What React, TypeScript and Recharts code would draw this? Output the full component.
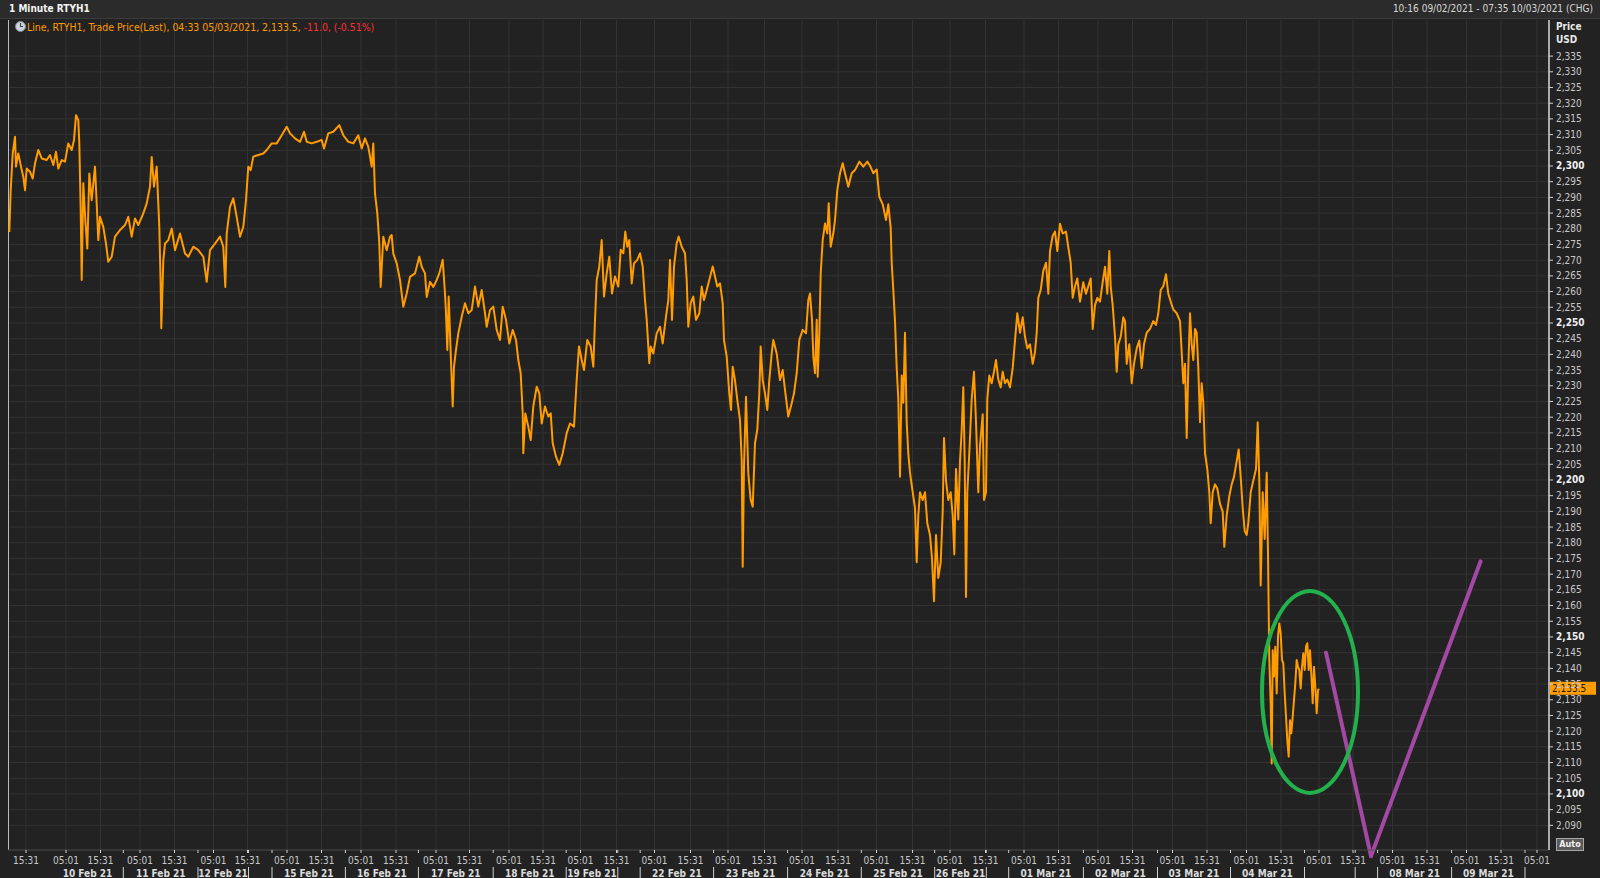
import { LineChart, Line, XAxis, YAxis, CartesianGrid, ReferenceLine, ReferenceDot } from "recharts";

// x = position on the compressed trading-time axis (chart slots), y = RTYH1 last trade price
const feb09to12: [number, number][] = [
  [1.3, 2279.0], [2.7, 2292.3], [4.7, 2304.0], [7, 2309.3], [8, 2299.8], [10.3, 2304.0], [12, 2301.4], [13.7, 2298.7],
  [15.3, 2296.6], [17, 2292.3], [18.7, 2299.2], [22, 2298.2], [24.7, 2296.0], [27, 2300.8], [30.3, 2305.1], [33.7, 2302.4],
  [38.7, 2301.9], [42, 2303.5], [45.3, 2300.3], [48, 2304.5], [50.3, 2299.2], [53.7, 2301.9], [57, 2301.4], [60.3, 2307.2],
  [63.7, 2305.1], [66, 2308.3], [68, 2316.2], [70.3, 2314.6], [71.3, 2307.2], [72.7, 2286.0], [73.7, 2263.7], [75.3, 2294.5],
  [77.3, 2282.8], [79.3, 2273.7], [81.3, 2297.6], [83.7, 2289.1], [87, 2299.8], [88.7, 2288.1], [90.3, 2276.4], [92, 2283.8],
  [95.3, 2280.6], [98, 2275.3], [100.3, 2269.5], [103.7, 2271.1], [107, 2277.5], [112, 2279.6], [117, 2281.2], [120.3, 2283.8],
  [123.7, 2277.5], [127, 2283.3], [130.3, 2281.2], [135.3, 2284.9], [138.7, 2288.1], [142, 2293.4], [143.7, 2302.9], [146, 2293.4],
  [148.7, 2299.8], [151.3, 2280.6], [152.7, 2261.5], [153.3, 2248.3], [155.3, 2270.0], [157, 2275.3], [160.3, 2276.4], [163.7, 2280.1],
  [167, 2273.2], [172, 2278.5], [177, 2272.1], [180.3, 2271.1], [185.3, 2274.3], [190.3, 2273.2], [195.3, 2271.1], [198.7, 2263.1],
  [202, 2273.2], [207, 2275.3], [212, 2277.5], [215.3, 2274.3], [217.3, 2261.5], [218.7, 2278.5], [222, 2287.0], [225.3, 2289.7],
  [228.7, 2283.8], [232, 2277.5], [235.3, 2280.6], [238, 2289.1], [240.3, 2299.8], [242.7, 2298.7], [245.3, 2303.0], [250.3, 2303.5],
  [255.3, 2304.0], [258.7, 2305.1], [263.7, 2307.2],
];

const feb15to19: [number, number][] = [
  [268.7, 2307.2], [273.7, 2309.8], [278.7, 2312.5], [282, 2310.4], [287, 2308.8], [292, 2307.7], [296, 2310.9], [298.7, 2307.7],
  [303.7, 2307.2], [308.7, 2307.7], [313.7, 2308.3], [316, 2305.6], [320.3, 2310.4], [325.3, 2310.9], [331.3, 2313.0], [335.3, 2309.8],
  [340.3, 2307.7], [345.3, 2307.2], [350.3, 2309.8], [353.7, 2305.6], [357, 2308.8], [360.3, 2306.1], [363.7, 2299.8], [365.3, 2307.2],
  [367, 2291.3], [369.3, 2284.9], [371.3, 2275.3], [372.7, 2261.5], [375.3, 2277.5], [378.7, 2273.2], [382, 2277.5], [383.7, 2278.0],
  [385.3, 2272.1], [388.7, 2269.0], [392, 2263.7], [395.3, 2255.2], [398.7, 2259.4], [402, 2264.7], [407, 2265.8], [411.3, 2271.1],
  [413.7, 2267.9], [417, 2265.8], [418.7, 2258.3], [422, 2263.1], [425.3, 2261.5], [428.7, 2263.7], [431.3, 2265.8], [434.7, 2270.1],
  [437, 2259.4], [438, 2253.1], [439.3, 2241.4], [440.7, 2258.4], [442.7, 2240.3], [444.7, 2223.4], [446, 2236.1], [448, 2241.4],
  [450.3, 2246.7], [453.7, 2252.0], [457, 2256.3], [460.3, 2253.1], [463.7, 2254.1], [467, 2261.6], [470.3, 2255.2], [473.7, 2260.5],
  [477, 2253.1], [478.7, 2248.8], [482, 2254.1], [485.3, 2255.2], [488.7, 2247.8], [492, 2244.6], [494.7, 2255.2], [498, 2251.0],
  [501.3, 2243.5], [504.7, 2247.8], [508, 2244.6], [510.3, 2238.2], [512.7, 2234.0], [514.7, 2221.2], [515.3, 2208.5], [517.3, 2221.2],
  [520.3, 2217.0], [522.7, 2212.7], [525.3, 2223.4], [528.7, 2229.7], [531.3, 2227.6], [533.7, 2218.0], [537, 2223.4], [540.3, 2220.2],
  [542.7, 2221.2], [544.7, 2211.7], [548, 2207.4], [551.3, 2204.8], [554.7, 2208.5], [558.7, 2214.9], [562, 2218.0], [566, 2217.0],
  [568.7, 2231.8], [571, 2242.5], [573.7, 2238.2], [576, 2235.0], [579.3, 2244.6], [582.7, 2242.5], [585.3, 2236.1], [587, 2251.0],
  [588.7, 2263.7], [591.3, 2268.0], [593.7, 2276.4], [596, 2258.4], [598.7, 2265.8], [601.3, 2271.1], [604, 2259.4], [607, 2264.8],
];

const feb22to26: [number, number][] = [
  [610.3, 2261.6], [612.7, 2273.3], [615.3, 2272.2], [617.3, 2279.1], [619.3, 2274.3], [621.3, 2276.4], [623.7, 2262.6], [626, 2269.0],
  [629.3, 2270.1], [632, 2272.2], [634.7, 2268.0], [637, 2257.3], [638.7, 2251.0], [641.3, 2237.2], [642.7, 2242.5], [645.3, 2240.3],
  [648.7, 2246.7], [652, 2248.8], [654.7, 2243.5], [658, 2252.0], [660.3, 2257.3], [662, 2270.1], [664, 2251.0], [666, 2268.0],
  [668.7, 2275.4], [670.7, 2277.5], [673.7, 2274.3], [677, 2272.2], [678.7, 2263.7], [680.3, 2248.8], [682.7, 2256.3], [685.3, 2258.4],
  [688, 2251.0], [691.3, 2253.1], [693.7, 2261.6], [696, 2257.3], [698.7, 2260.5], [701.3, 2263.7], [704.7, 2268.0], [707, 2264.8],
  [709.3, 2261.6], [712, 2262.6], [714.7, 2256.3], [716, 2244.6], [718.7, 2239.3], [721.3, 2227.6], [723, 2222.3], [724.7, 2236.1],
  [727, 2231.8], [729.3, 2225.5], [732, 2219.1], [733.7, 2206.4], [734.7, 2172.4], [736, 2204.3], [738, 2226.5], [740.3, 2202.1],
  [742.7, 2193.6], [744.7, 2191.5], [747, 2211.7], [749.3, 2216.0], [751.3, 2227.6], [752.7, 2242.5], [754.7, 2231.8], [757, 2227.6],
  [759.3, 2222.3], [761.3, 2231.8], [763.7, 2240.3], [765.3, 2244.6], [768.7, 2240.3], [772, 2231.8], [774.7, 2235.0], [777, 2228.7],
  [780.3, 2220.2], [783.7, 2224.4], [786, 2227.6], [788.7, 2234.0], [791.3, 2244.6], [794.7, 2247.8], [798, 2246.7], [800.3, 2257.3],
  [802, 2259.4], [804, 2251.0], [805.3, 2239.3], [807, 2234.0], [808.7, 2251.0], [809.7, 2232.9], [811.3, 2246.7], [812.7, 2265.8],
  [814.7, 2276.4], [817, 2281.7], [819.3, 2278.5], [820.7, 2288.1], [822.7, 2274.3], [825.3, 2278.5], [827, 2282.8], [829.3, 2292.4],
  [832, 2297.7], [834.7, 2300.9], [837, 2297.7], [840.3, 2293.4], [843.7, 2297.7], [847, 2298.7], [851.3, 2301.4], [855.3, 2299.8],
  [859.3, 2301.4], [862, 2300.1], [865.3, 2297.7], [868.7, 2298.9], [871.3, 2290.2], [874.7, 2287.8], [878, 2282.8], [880.3, 2287.8],
  [882.7, 2280.3], [883.7, 2269.2], [885.3, 2260.5], [887, 2250.6], [888.7, 2235.7], [890.3, 2225.8], [892, 2201.0], [893.7, 2233.3],
  [895.3, 2224.6], [897, 2246.9], [898.7, 2218.4], [900.3, 2208.5], [902, 2202.3], [904.7, 2196.1], [907, 2191.1], [908.7, 2173.8],
  [910.3, 2188.7], [912, 2196.1], [914.7, 2193.6], [917, 2196.1], [919.3, 2186.2], [922, 2182.5], [924, 2175.0], [926, 2161.4],
  [928, 2182.5], [930.3, 2168.8], [932.7, 2173.8], [934.7, 2189.9], [936, 2213.4], [938, 2199.8], [940.3, 2193.6], [942.7, 2196.1],
  [944.7, 2188.7], [946.3, 2176.3], [948, 2203.5], [950.3, 2187.4], [952, 2206.0], [953.7, 2215.9], [955.3, 2229.5], [956.7, 2206.0],
  [958, 2162.7], [959.3, 2196.1], [961.3, 2208.5], [963.7, 2225.8], [966, 2234.5], [968, 2218.4], [970.3, 2196.1], [972, 2211.0],
  [974.7, 2220.9], [976, 2193.6], [978, 2196.1],
];

const mar01to05: [number, number][] = [
  [979.3, 2225.8], [981.3, 2233.3], [983.7, 2230.8], [986, 2234.5], [988, 2238.2], [990.3, 2232.0], [992.7, 2229.5], [994.7, 2234.5],
  [997, 2230.8], [999.3, 2232.0], [1002, 2229.5], [1004.7, 2235.7], [1007, 2244.4], [1009.3, 2253.1], [1012, 2246.9], [1014.7, 2251.8],
  [1017, 2245.6], [1019.3, 2241.9], [1022, 2243.2], [1024.7, 2237.0], [1027, 2240.7], [1028.7, 2246.9], [1030.3, 2258.0], [1032.7, 2260.5],
  [1035.3, 2266.7], [1038, 2269.2], [1040.3, 2259.3], [1042, 2272.9], [1044.7, 2277.8], [1047, 2279.1], [1049.3, 2272.9], [1052, 2281.6],
  [1054.7, 2278.5], [1058, 2279.1], [1060.3, 2274.1], [1062.7, 2269.2], [1064.7, 2258.0], [1067, 2261.7], [1069.3, 2264.2], [1072, 2256.8],
  [1075.3, 2263.0], [1078, 2259.3], [1080.3, 2261.7], [1082.7, 2264.2], [1084.7, 2248.1], [1087, 2255.6], [1089.3, 2258.0], [1092, 2256.8],
  [1094.7, 2263.0], [1097, 2267.9], [1099.3, 2259.3], [1101.3, 2272.9], [1102.7, 2261.7], [1104.7, 2255.6], [1107, 2245.6], [1108.7, 2234.5],
  [1110.3, 2243.2], [1112.7, 2245.6], [1115.3, 2251.8], [1117, 2250.6], [1118.7, 2237.0], [1121.3, 2243.2], [1123.7, 2230.8], [1126, 2237.0],
  [1128.7, 2241.9], [1131.3, 2244.4], [1133.7, 2235.7], [1136, 2243.2], [1138.7, 2246.9], [1142, 2248.1], [1145.3, 2250.6], [1148, 2249.4],
  [1150.3, 2253.1], [1152.7, 2260.5], [1155.3, 2261.7], [1158, 2265.5], [1160.3, 2259.3], [1162.7, 2256.8], [1165.3, 2254.3], [1168.7, 2253.1],
  [1172, 2250.6], [1173.7, 2240.7], [1175.3, 2230.8], [1177, 2237.0], [1178.7, 2213.4], [1180.3, 2235.7], [1182, 2253.1], [1183.7, 2243.2],
  [1185.3, 2238.2], [1187, 2248.1], [1188.7, 2246.9], [1190.3, 2235.7], [1192, 2218.4], [1193.7, 2230.8], [1195.3, 2224.6], [1197, 2208.5],
  [1199.3, 2203.5], [1201.3, 2196.1], [1202.7, 2186.2], [1204.7, 2196.1], [1207, 2198.6], [1209.3, 2197.3], [1212, 2192.4], [1214.7, 2189.9],
  [1216.3, 2178.7], [1218.7, 2188.7], [1221.3, 2194.9], [1223.7, 2198.6], [1226, 2201.0], [1228.7, 2206.0], [1230.7, 2209.7], [1232.7, 2201.0],
  [1234.7, 2191.1], [1236.7, 2183.7], [1238.7, 2182.5], [1240.3, 2186.2], [1242.7, 2196.1], [1245.3, 2199.8], [1248, 2203.5], [1249.7, 2218.4],
  [1251.3, 2199.8], [1252.7, 2166.4], [1254.7, 2196.1], [1256.7, 2181.2], [1258.7, 2202.3], [1260, 2176.3], [1261.3, 2142.7], [1262.7, 2128.9],
  [1263.7, 2109.7], [1264.7, 2145.8], [1266, 2137.4], [1267.3, 2146.9], [1268.7, 2132.0], [1270, 2150.1], [1271.3, 2154.3], [1272.7, 2151.1],
  [1274, 2142.7], [1275.3, 2141.6], [1276.7, 2132.0], [1278, 2124.6], [1279.3, 2117.2], [1280.7, 2111.9], [1282, 2123.5], [1283.3, 2119.3],
  [1284.7, 2124.6], [1286, 2129.9], [1287.3, 2135.2], [1288.7, 2142.7], [1290, 2140.5], [1291.3, 2139.5], [1292.7, 2133.6], [1294, 2140.5],
  [1295.3, 2144.8], [1296.7, 2139.5], [1298, 2146.9], [1299.3, 2148.0], [1300.7, 2139.5], [1302, 2145.8], [1303.3, 2138.4], [1304.7, 2128.9],
  [1306, 2140.5], [1307.3, 2134.2], [1308.7, 2125.7], [1310, 2133.1], [1311, 2133.5],
];

const timeTicks: [number, string][] = [
  [18, "15:31"], [58, "05:01"], [92.5, "15:31"], [132, "05:01"], [166.5, "15:31"], [205.5, "05:01"], [239.5, "15:31"],
  [279, "05:01"], [313.5, "15:31"], [353, "05:01"], [388, "15:31"], [428, "05:01"], [461.5, "15:31"], [501, "05:01"],
  [535, "15:31"], [572.5, "05:01"], [608.5, "15:31"], [646.5, "05:01"], [682.5, "15:31"], [720, "05:01"], [756.5, "15:31"],
  [794, "05:01"], [830, "15:31"], [868.5, "05:01"], [904.5, "15:31"], [942, "05:01"], [977.5, "15:31"], [1016, "05:01"],
  [1050.5, "15:31"], [1090, "05:01"], [1124.5, "15:31"], [1164.5, "05:01"], [1199, "15:31"], [1238.5, "05:01"], [1273, "15:31"],
  [1311, "05:01"], [1345, "15:31"], [1384.5, "05:01"], [1419, "15:31"], [1458.5, "05:01"], [1493, "15:31"], [1529, "05:01"],
];

const daySeparators = [
  115.3, 190, 240.5, 264, 337.4, 410.4, 485.2, 558.2, 609.8, 632.2, 705.6, 779.6, 853.3, 926.7, 978.3, 1000.7,
  1075.4, 1149.5, 1222.5, 1296.5, 1347.2, 1369.6, 1443.6, 1517,
];

const dayLabels: [number, string][] = [
  [79.5, "10 Feb 21"], [152.7, "11 Feb 21"], [215, "12 Feb 21"], [300.7, "15 Feb 21"], [373.9, "16 Feb 21"],
  [447.8, "17 Feb 21"], [521.7, "18 Feb 21"], [584, "19 Feb 21"], [668.9, "22 Feb 21"], [742.6, "23 Feb 21"],
  [816.5, "24 Feb 21"], [890, "25 Feb 21"], [952.5, "26 Feb 21"], [1038, "01 Mar 21"], [1112.5, "02 Mar 21"],
  [1186, "03 Mar 21"], [1259.5, "04 Mar 21"], [1406.6, "08 Mar 21"], [1480.3, "09 Mar 21"],
];

const priceTicks = [
  2090, 2095, 2100, 2105, 2110, 2115, 2120, 2125, 2130, 2135, 2140, 2145, 2150, 2155, 2160, 2165, 2170,
  2175, 2180, 2185, 2190, 2195, 2200, 2205, 2210, 2215, 2220, 2225, 2230, 2235, 2240, 2245, 2250, 2255,
  2260, 2265, 2270, 2275, 2280, 2285, 2290, 2295, 2300, 2305, 2310, 2315, 2320, 2325, 2330, 2335,
];

// hand-drawn annotations on the original screenshot
const purpleV: [number, number][] = [[1318, 2145.0], [1363, 2080.2], [1472.6, 2174.1]];
const greenRing: [number, number] = [1302, 2132.5];

const LAST_PRICE = 2133.5;
const X_DOMAIN: [number, number] = [0, 1541];
const Y_DOMAIN: [number, number] = [2082.15, 2346.5];
const FONT = "Tahoma, 'DejaVu Sans Condensed', 'Liberation Sans', sans-serif";

const priceData = [...feb09to12, ...feb15to19, ...feb22to26, ...mar01to05].map(([t, price]) => ({ t, price }));

const tickInfo = new Map<number, { kind: string; label: string }>();
timeTicks.forEach(([v, l]) => tickInfo.set(v, { kind: "time", label: l }));
daySeparators.forEach((v) => tickInfo.set(v, { kind: "sep", label: "" }));
dayLabels.forEach(([v, l]) => tickInfo.set(v, { kind: "day", label: l }));
const allXTicks = Array.from(tickInfo.keys()).sort((a, b) => a - b);

function TimeTick(props: any) {
  const { x, y, payload } = props;
  const info = tickInfo.get(payload.value);
  if (!info) return null;
  if (info.kind === "time") {
    return (
      <g>
        <line x1={x} x2={x} y1={y} y2={y + 3} stroke="#d0d0d0" />
        <text x={x} y={y + 14} textAnchor="middle" fill="#c8c8c8" fontSize={10} fontFamily={FONT}>
          {info.label}
        </text>
      </g>
    );
  }
  if (info.kind === "sep") {
    return (
      <g>
        <line x1={x} x2={x} y1={y} y2={y + 3} stroke="#d0d0d0" />
        <line x1={x} x2={x} y1={y + 17} y2={y + 28} stroke="#d0d0d0" />
      </g>
    );
  }
  return (
    <text x={x} y={y + 27} textAnchor="middle" fill="#dcdcdc" fontSize={10} fontWeight="bold" fontFamily={FONT}>
      {info.label}
    </text>
  );
}

function PriceTick(props: any) {
  const { x, y, payload } = props;
  const v = payload.value as number;
  const major = v % 50 === 0;
  return (
    <text x={x + 1} y={y} dy="0.35em" textAnchor="start" fill={major ? "#f0f0f0" : "#c8c8c8"}
      fontSize={10} fontWeight={major ? "bold" : "normal"} fontFamily={FONT}>
      {v.toLocaleString("en-US")}
    </text>
  );
}

function PriceTag(props: any) {
  const { viewBox } = props;
  if (!viewBox) return null;
  const x = viewBox.x + viewBox.width + 1;
  const y = viewBox.y;
  return (
    <g>
      <rect x={x} y={y - 7} width={46} height={13} fill="#ff9c00" />
      <text x={x + 2} y={y} dy="0.35em" fill="#1a1a1a" fontSize={10} fontFamily={FONT}>
        {LAST_PRICE.toLocaleString("en-US", { minimumFractionDigits: 1 })}
      </text>
    </g>
  );
}

function Ring(props: any) {
  const { cx, cy } = props;
  return <ellipse cx={cx} cy={cy} rx={48} ry={101} fill="none" stroke="#22b14c" strokeWidth={4} />;
}

function ClockIcon() {
  return (
    <svg width={11} height={11} style={{ position: "absolute", left: 15, top: 21 }}>
      <circle cx={5.5} cy={5.5} r={5} fill="#c9d3dc" stroke="#7d8894" />
      <line x1={5.5} y1={5.5} x2={5.5} y2={2} stroke="#333" />
      <line x1={5.5} y1={5.5} x2={8} y2={5.5} stroke="#333" />
    </svg>
  );
}

export default function App() {
  return (
    <div style={{ position: "absolute", left: 0, top: 0, width: 1600, height: 878, background: "#222222", overflow: "hidden", fontFamily: FONT }}>
      <div style={{ position: "absolute", left: 0, top: 0, width: 1600, height: 18, background: "#2b2b2b", borderBottom: "1px solid #3c3c3c" }}>
        <span style={{ position: "absolute", left: 9, top: 3, fontSize: 10, fontWeight: "bold", color: "#f2f2f2" }}>1 Minute RTYH1</span>
        <span style={{ position: "absolute", right: 7, top: 3, fontSize: 10, color: "#d8d8d8" }}>10:16 09/02/2021 - 07:35 10/03/2021 (CHG)</span>
      </div>

      <div style={{ position: "absolute", left: 8, top: 20 }}>
        <LineChart width={1592} height={858} data={priceData} margin={{ top: 0, right: 0, bottom: 0, left: 0 }}>
          <CartesianGrid
            fill="#222222"
            stroke="#333333"
            verticalValues={timeTicks.map(([v]) => v)}
            horizontalValues={priceTicks}
          />
          <XAxis
            dataKey="t"
            type="number"
            domain={X_DOMAIN}
            allowDataOverflow
            ticks={allXTicks}
            interval={0}
            tickSize={0}
            tickMargin={0}
            tickLine={false}
            axisLine={{ stroke: "#4a4a4a" }}
            tick={<TimeTick />}
            height={28}
          />
          <YAxis
            orientation="right"
            type="number"
            domain={Y_DOMAIN}
            allowDataOverflow
            ticks={priceTicks}
            interval={0}
            width={51}
            tickSize={4}
            tickMargin={2}
            tickLine={{ stroke: "#d0d0d0" }}
            axisLine={{ stroke: "#d8d8d8", strokeWidth: 1.5 }}
            tick={<PriceTick />}
          />
          <ReferenceLine x={X_DOMAIN[0]} stroke="#bdbdbd" strokeWidth={2} />
          <Line
            type="linear"
            dataKey="price"
            stroke="#ff9c00"
            strokeWidth={2}
            strokeLinejoin="round"
            dot={false}
            isAnimationActive={false}
          />
          <ReferenceDot x={greenRing[0]} y={greenRing[1]} shape={<Ring />} />
          <ReferenceLine
            segment={[{ x: purpleV[0][0], y: purpleV[0][1] }, { x: purpleV[1][0], y: purpleV[1][1] }]}
            stroke="#a349a4" strokeWidth={4} strokeLinecap="round" ifOverflow="visible"
          />
          <ReferenceLine
            segment={[{ x: purpleV[1][0], y: purpleV[1][1] }, { x: purpleV[2][0], y: purpleV[2][1] }]}
            stroke="#a349a4" strokeWidth={4} strokeLinecap="round" ifOverflow="visible"
          />
          <ReferenceLine y={LAST_PRICE} stroke="none" label={<PriceTag />} />
        </LineChart>
      </div>

      <ClockIcon />
      <div style={{ position: "absolute", left: 27, top: 21, fontSize: 10.4, whiteSpace: "nowrap", color: "#ff9c00" }}>
        Line, RTYH1, Trade Price(Last), 04:33 05/03/2021, 2,133.5, <span style={{ color: "#ff3030" }}>-11.0, (-0.51%)</span>
      </div>

      <div style={{ position: "absolute", left: 1556, top: 20, fontSize: 10, fontWeight: "bold", color: "#e8e8e8", lineHeight: "13px" }}>
        Price<br />USD
      </div>
      <div style={{ position: "absolute", left: 1556, top: 838, width: 26, height: 11, background: "#5a5a5a", border: "1px solid #a8a8a8", fontSize: 9, fontWeight: "bold", color: "#f0f0f0", lineHeight: "11px", textAlign: "center" }}>
        Auto
      </div>
    </div>
  );
}
